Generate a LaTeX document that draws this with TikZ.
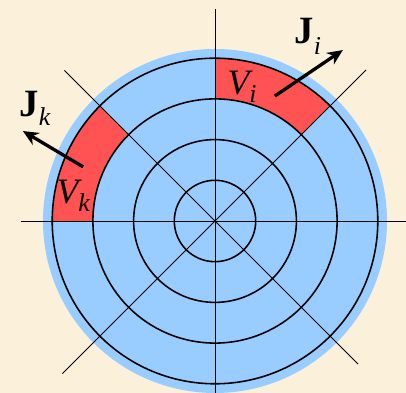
\documentclass[tikz,border=0pt]{standalone}
\usepackage{fontspec}
\setmainfont{Liberation Serif}
\usetikzlibrary{arrows.meta}

\definecolor{paper}{RGB}{251,240,218}
\definecolor{diskblue}{RGB}{153,204,255}
\definecolor{cellred}{RGB}{255,82,82}

% subscript lowered by #1
\newcommand{\lowsub}[2]{\raisebox{#1}{\fontsize{18}{20}\selectfont\mdseries\itshape #2}}

\begin{document}
\begin{tikzpicture}[
  ring/.style={draw=black,line width=1.1pt},
  ray/.style={draw=black,line width=0.55pt},
  cell/.style={fill=cellred},
  flux/.style={-{Stealth[length=3.8mm,width=3.4mm]},line width=2.3pt},
  vlbl/.style={inner sep=0pt,anchor=base west,font=\fontsize{25}{28}\selectfont\itshape},
  jlbl/.style={inner sep=0pt,anchor=base west,font=\fontsize{27}{30}\selectfont\bfseries}
]

% Background
\fill[paper] (-5.283,-4.226) rectangle (4.693,5.430);
\useasboundingbox (-5.283,-4.226) rectangle (4.693,5.430);

% Disk
\fill[diskblue] (0,0) circle (4.226);

% Red cells
\fill[cell] (45:3) arc (45:90:3) -- (90:4) arc (90:45:4) -- cycle;
\fill[cell] (135:3) arc (135:180:3) -- (180:4) arc (180:135:4) -- cycle;

% Rings
\foreach \r in {1,...,4}
  \draw[ring] (0,0) circle (\r);

% Rays
\coordinate (w) at (-4.77,0);
\coordinate (e) at (4.693,0);
\coordinate (n) at (0,5.21);
\coordinate (s) at (0,-4.226);
\coordinate (nw) at (135:5.23);
\coordinate (se) at (-45:4.97);
\coordinate (ne) at (45:5.25);
\coordinate (sw) at (225:5.3);
\draw[ray] (w) -- (e);
\draw[ray] (s) -- (n);
\draw[ray] (nw) -- (se);
\draw[ray] (sw) -- (ne);

% Labels
\node[vlbl] (Vi) at (0.30,3.12) {V\lowsub{-5.6pt}{i}};
\node[vlbl] (Vk) at (-3.90,0.43) {V\lowsub{-5.6pt}{k}};
\node[jlbl] (Ji) at (1.95,4.37) {J\lowsub{-8pt}{i}};
\node[jlbl] (Jk) at (-4.81,2.56) {J\lowsub{-6pt}{k}};

% Flux arrows
\coordinate (Ji-tail) at (1.47,3.07);
\coordinate (Ji-tip) at (3.14,4.20);
\coordinate (Jk-tail) at (-3.24,1.33);
\coordinate (Jk-tip) at (-4.72,2.21);
\draw[flux] (Ji-tail) -- (Ji-tip);
\draw[flux] (Jk-tail) -- (Jk-tip);

\end{tikzpicture}
\end{document}
